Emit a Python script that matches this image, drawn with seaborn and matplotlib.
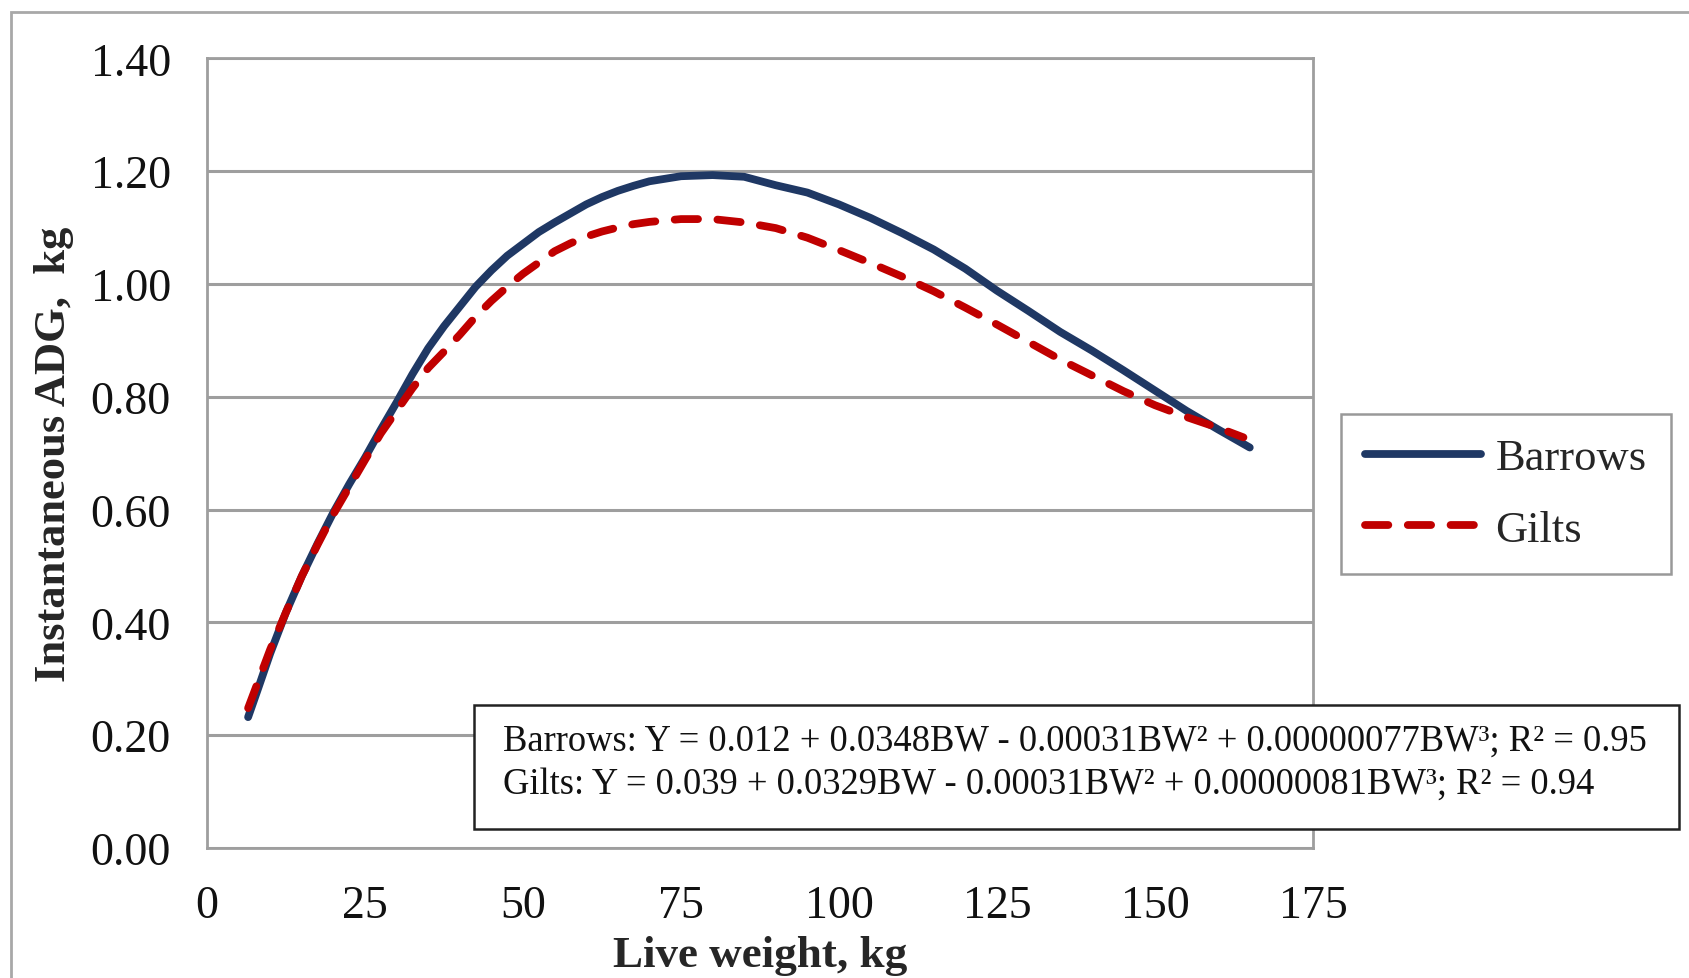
import matplotlib
matplotlib.use("Agg")
import matplotlib.pyplot as plt
import seaborn as sns
import pandas as pd
from matplotlib.patches import Rectangle
from matplotlib.lines import Line2D

# ---- data ----
barrows_bw = [6.5, 8, 10, 12.5, 15, 17.5, 20, 22.5, 25, 27.5, 30, 32.5, 35, 37.5, 40,
              42.5, 45, 47.5, 50, 52.5, 55, 57.5, 60, 62.5, 65, 67.5, 70, 75, 80, 85,
              90, 95, 100, 105, 110, 115, 120, 125, 130, 135, 140, 145, 150, 155, 160, 165]
barrows_adg = [0.232, 0.280, 0.345, 0.418, 0.482, 0.540, 0.595, 0.645, 0.692, 0.742,
               0.790, 0.840, 0.886, 0.925, 0.960, 0.995, 1.024, 1.050, 1.071, 1.092,
               1.109, 1.125, 1.141, 1.154, 1.165, 1.174, 1.182, 1.191, 1.193, 1.190,
               1.175, 1.162, 1.141, 1.117, 1.090, 1.061, 1.027, 0.988, 0.952, 0.915,
               0.882, 0.847, 0.811, 0.775, 0.742, 0.710]
gilts_bw = [6.5, 10, 12.5, 15, 17.5, 20, 22.5, 25, 27.5, 30, 32.5, 35, 37.5, 40, 42.5,
            45, 47.5, 50, 52.5, 55, 57.5, 60, 62.5, 65, 67.5, 70, 75, 80, 85, 90, 95,
            100, 105, 110, 115, 120, 125, 130, 135, 140, 145, 150, 155, 160, 164]
gilts_adg = [0.248, 0.352, 0.418, 0.482, 0.538, 0.592, 0.640, 0.688, 0.735, 0.775,
             0.815, 0.851, 0.880, 0.910, 0.942, 0.970, 0.995, 1.018, 1.038, 1.058,
             1.072, 1.084, 1.093, 1.100, 1.106, 1.110, 1.115, 1.115, 1.109, 1.099,
             1.082, 1.060, 1.037, 1.013, 0.987, 0.958, 0.928, 0.897, 0.866, 0.838,
             0.810, 0.785, 0.764, 0.745, 0.728]
series_names = ["Barrows", "Gilts"]
x_ticks = [0, 25, 50, 75, 100, 125, 150, 175]
y_ticks = [0.0, 0.2, 0.4, 0.6, 0.8, 1.0, 1.2, 1.4]
eq_lines = ["Barrows: Y = 0.012 + 0.0348BW - 0.00031BW² + 0.00000077BW³; R² = 0.95",
            "Gilts: Y = 0.039 + 0.0329BW - 0.00031BW² + 0.00000081BW³; R² = 0.94"]

sns.set_style("white")
plt.rcParams["font.family"] = ["Liberation Serif", "DejaVu Serif"]

BLUE = "#1F3864"
RED = "#C00000"
GRID = "#9E9E9E"
LW = 5.6
DASH = (0, (3.0, 2.5))

fig = plt.figure(figsize=(16.9, 9.79), dpi=100)
ax = fig.add_axes([0.1225, 0.1328, 0.6544, 0.8066])

df_b = pd.DataFrame({"bw": barrows_bw, "adg": barrows_adg})
df_g = pd.DataFrame({"bw": gilts_bw, "adg": gilts_adg})
sns.lineplot(data=df_b, x="bw", y="adg", ax=ax, color=BLUE, linewidth=LW,
             legend=False)
sns.lineplot(data=df_g, x="bw", y="adg", ax=ax, color=RED, linewidth=LW,
             legend=False)
lb, lg = ax.lines[0], ax.lines[1]
lb.set_zorder(3)
lb.set_solid_capstyle("round")
lb.set_solid_joinstyle("round")
lg.set_zorder(4)
lg.set_linestyle(DASH)
lg.set_dash_capstyle("round")

ax.set_xlim(0, 175)
ax.set_ylim(0, 1.4)
ax.set_xticks(x_ticks)
ax.set_xticklabels([str(t) for t in x_ticks])
ax.set_yticks(y_ticks)
ax.set_yticklabels([f"{t:.2f}" for t in y_ticks])
ax.yaxis.grid(True, color=GRID, linewidth=2.2)
ax.xaxis.grid(False)
ax.set_axisbelow(True)
for s in ax.spines.values():
    s.set_color(GRID)
    s.set_linewidth(2.0)
ax.tick_params(axis="both", which="major", direction="out", length=8, width=1.8,
               color=GRID, labelsize=33, labelcolor="#111111")
ax.tick_params(axis="x", pad=18)
ax.tick_params(axis="y", pad=18)
ax.set_xlabel("Live weight, kg", fontsize=32.5, fontweight="bold", labelpad=6)
ax.set_ylabel("Instantaneous ADG,  kg", fontsize=32, fontweight="bold", labelpad=12)

handles = [Line2D([], [], color=BLUE, lw=LW, solid_capstyle="round"),
           Line2D([], [], color=RED, lw=LW, linestyle=DASH, dash_capstyle="round")]
leg = fig.legend(handles, series_names, loc="center",
                 bbox_to_anchor=(0.8911, 0.4944), fontsize=32, frameon=True,
                 fancybox=False, edgecolor="#808080", handlelength=2.6,
                 handletextpad=0.33, labelspacing=0.7, borderpad=0.55)
leg.get_frame().set_linewidth(1.8)

# equation box
fig.patches.append(Rectangle((0.2805, 0.1522), 0.713, 0.1267,
                             transform=fig.transFigure, facecolor="white",
                             edgecolor="#222222", linewidth=1.8, zorder=5))
fig.text(0.2976, 0.2431, eq_lines[0], fontsize=26.3, va="center", ha="left",
         color="#111111", zorder=6)
fig.text(0.2976, 0.1992, eq_lines[1], fontsize=26.3, va="center", ha="left",
         color="#111111", zorder=6)

# outer frame (left and top edges visible)
fig.patches.append(Rectangle((11 / 1690, -0.05), 1.1, 1 - 13 / 979 + 0.05,
                             transform=fig.transFigure, facecolor="none",
                             edgecolor="#A8A8A8", linewidth=2.0, zorder=0))

fig.savefig("out.png", dpi=100)
